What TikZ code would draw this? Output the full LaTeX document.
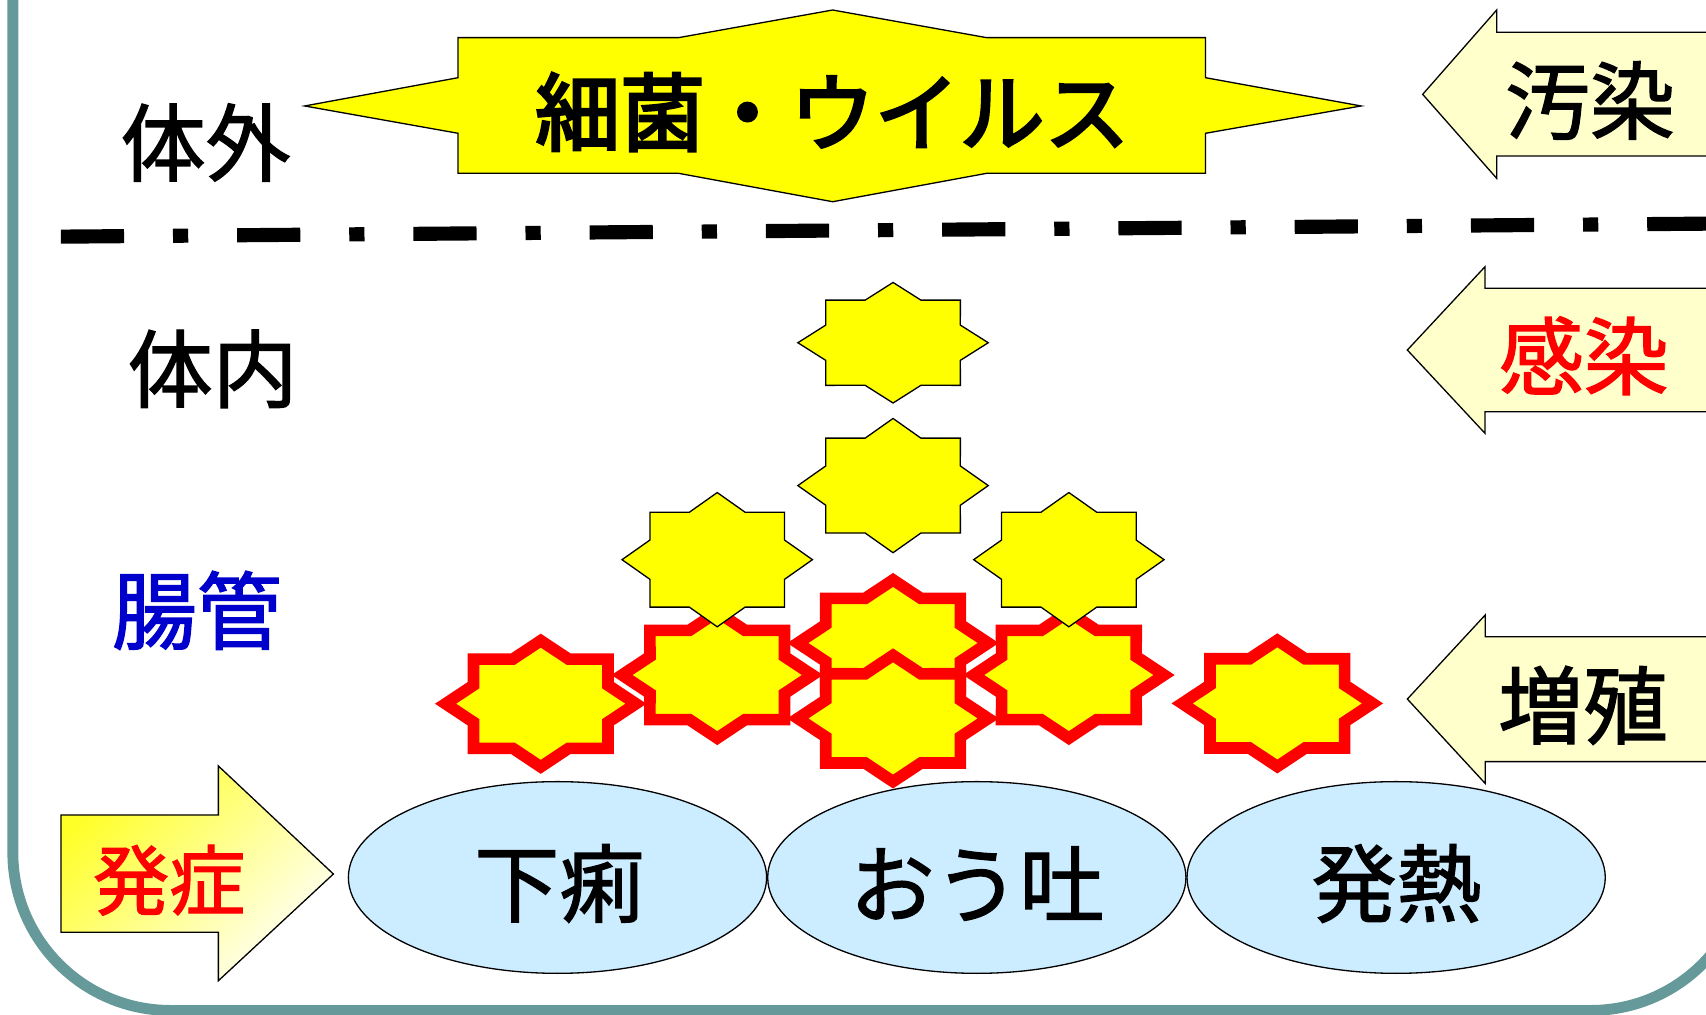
\documentclass[tikz,border=0pt]{standalone}
\usepackage{fontspec}
\setmainfont{Noto Sans CJK JP}[FakeBold=1.6]
\newfontfamily\heavyjp{Noto Sans CJK JP}[FakeBold=3.4]
\usetikzlibrary{shapes.geometric}

\definecolor{frameteal}{RGB}{102,153,153}
\definecolor{germyellow}{RGB}{255,255,0}
\definecolor{arrowcream}{RGB}{255,255,204}
\definecolor{symptomblue}{RGB}{204,236,255}
\definecolor{gutblue}{RGB}{0,0,204}
\definecolor{onsetdeep}{RGB}{255,255,40}
\definecolor{onsetpale}{RGB}{255,255,246}

% eight-pointed germ: #1 style, (#2,#3) centre, #4 half height
\newcommand{\germ}[4]{%
  \draw[#1, shift={(#2,#3)}] (87.5,0)
    \foreach \k in {1,...,15}{
      -- ({(0.8825+0.1175*cos(180*\k))*87.5*cos(22.5*\k)}, {(0.8825+0.1175*cos(180*\k))*#4*sin(22.5*\k)})
    } -- cycle ;}

\begin{document}
\begin{tikzpicture}[x=1pt,y=1pt,yscale=-1,
  txt/.style={inner sep=0pt, font=\fontsize{78}{80}\selectfont},
  outline/.style={draw=black, line width=1.2pt, line join=miter},
  banner/.style={outline, fill=germyellow},
  blockarrow/.style={outline, fill=arrowcream},
  symptom/.style={ellipse, outline, fill=symptomblue, minimum width=384.4pt, minimum height=176.2pt, inner sep=0pt},
  calmgerm/.style={outline, fill=germyellow},
  hotgerm/.style={draw=red, line width=10.7pt, line join=miter, fill=germyellow}]
\useasboundingbox (0,0) rectangle (1568,932);
\clip (0,0) rectangle (1568,932);

%Shape: Rounded Rectangle (frame)
\draw [frameteal, line width=10pt, rounded corners=145pt] (11.8,-300) rectangle (1607,928.7) ;

%Straight Lines (outside / inside)
\draw [line width=13pt, dash pattern=on 58pt off 45pt on 14pt off 45pt] (56,217.5) -- (1600,205.3) ;

%Shape: Explosion banner
\draw [banner] (280,97.4) -- (421,71.4) -- (421,34.6) -- (623.7,34.6) -- (765.3,9.2) -- (906.8,34.6) -- (1108,34.6) -- (1108,71.4) -- (1251,97.4) -- (1108,122.5) -- (1108,159.3) -- (906.8,159.3) -- (765.3,185.4) -- (623.7,159.3) -- (421,159.3) -- (421,122.5) -- cycle ;

%Shape: Left Arrow (contamination)
\draw [blockarrow] (1307.6,86.7) -- (1375.6,9.2) -- (1375.6,29.7) -- (1600,29.7) -- (1600,143.4) -- (1375.6,143.4) -- (1375.6,163.9) -- cycle ;
%Shape: Left Arrow (infection)
\draw [blockarrow] (1293.5,321.7) -- (1364.9,245.1) -- (1364.9,265) -- (1600,265) -- (1600,378.4) -- (1364.9,378.4) -- (1364.9,398.3) -- cycle ;
%Shape: Left Arrow (growth)
\draw [blockarrow] (1293.5,642.5) -- (1365,565.3) -- (1365,585.2) -- (1600,585.2) -- (1600,700) -- (1365,700) -- (1365,720) -- cycle ;

%Shape: Right Arrow (onset)
\draw [outline, top color=onsetdeep, bottom color=onsetpale, shading angle=45] (56,749) -- (200.7,749) -- (200.7,704) -- (306.4,803.3) -- (200.7,901.4) -- (200.7,856.9) -- (56,856.9) -- cycle ;

%Shape: Germs
\germ{calmgerm}{820.8}{315}{55.4}
\germ{calmgerm}{820.8}{446.3}{61.7}
\germ{hotgerm}{497}{646.8}{58}
\germ{hotgerm}{659.2}{620.4}{58}
\germ{hotgerm}{982.4}{620.4}{58}
\germ{hotgerm}{1174}{646.5}{58}
\germ{hotgerm}{820.8}{591}{58}
\germ{hotgerm}{820.8}{660.3}{58}
\germ{calmgerm}{659.2}{514.4}{61.7}
\germ{calmgerm}{982.4}{514.4}{61.7}

%Shape: Ellipses (symptoms)
\draw (512.4,806.5) node [symptom] (diarrhea) {} ;
\draw (897.8,806.5) node [symptom] (vomit) {} ;
\draw (1283.2,806.5) node [symptom] (fever) {} ;

% Text Node
\draw (189,131) node [txt] (outside) {体外};
% Text Node
\draw (195.5,339) node [txt] (inside) {体内};
% Text Node
\draw (181,561) node [txt, text=gutblue] (gut) {腸管};
% Text Node
\draw (765,103) node [txt, font=\fontsize{78}{80}\selectfont\heavyjp] (microbes) {細菌・ウイルス};
% Text Node
\draw (1461.4,92.4) node [txt] (contam) {汚染};
% Text Node
\draw (1455.7,327) node [txt, text=red] (infect) {感染};
% Text Node
\draw (1455,648.3) node [txt] (grow) {増殖};
% Text Node
\draw (155.5,809) node [txt, text=red, font=\fontsize{70}{72}\selectfont] (onset) {発症};
% Text Node
\draw (514,812) node [txt] (diarrheatxt) {下痢};
% Text Node
\draw (898,812) node [txt] (vomittxt) {おう吐};
% Text Node
\draw (1283.6,812) node [txt] (fevertxt) {発熱};

\end{tikzpicture}
\end{document}
